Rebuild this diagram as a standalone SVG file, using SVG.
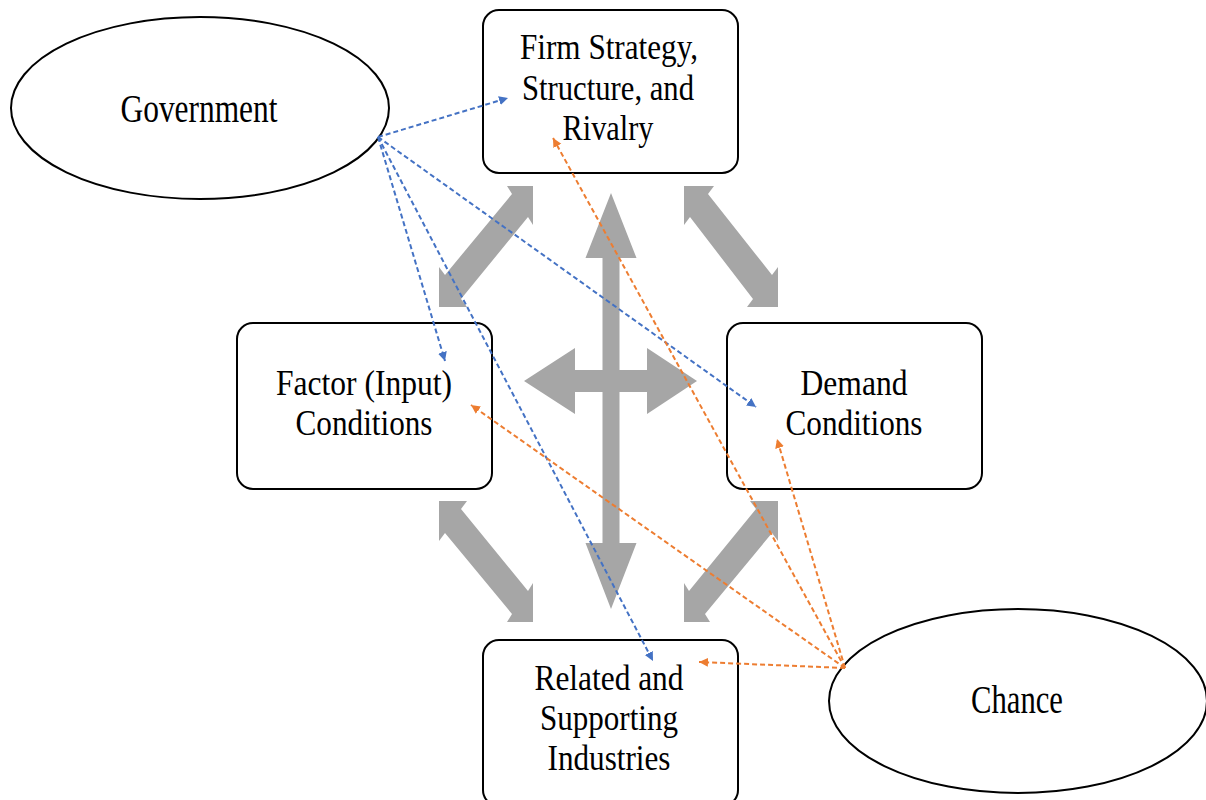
<svg xmlns="http://www.w3.org/2000/svg" width="1206" height="800" viewBox="0 0 1206 800">
  <defs>
    <style>
      .box { fill: #ffffff; stroke: #000000; stroke-width: 2; }
      .oval { fill: #ffffff; stroke: #000000; stroke-width: 2; }
      .label { font-family: "Liberation Serif", "Times New Roman", serif; font-size: 36px; fill: #000000; text-anchor: middle; }
      .big { font-size: 40px; }
      .force { fill: #a6a6a6; stroke: none; }
      .gov { fill: none; stroke: #4472c4; stroke-width: 2; stroke-dasharray: 5 3; marker-end: url(#headBlue); }
      .chance { fill: none; stroke: #ed7d31; stroke-width: 2; stroke-dasharray: 5 3; marker-end: url(#headOrange); }
    </style>
    <marker id="headBlue" markerUnits="userSpaceOnUse" markerWidth="10" markerHeight="10" refX="9" refY="4.5" orient="auto">
      <path d="M0,0 L9,4.5 L0,9 Z" fill="#4472c4"/>
    </marker>
    <marker id="headOrange" markerUnits="userSpaceOnUse" markerWidth="10" markerHeight="10" refX="9" refY="4.5" orient="auto">
      <path d="M0,0 L9,4.5 L0,9 Z" fill="#ed7d31"/>
    </marker>
  </defs>

  <rect width="1206" height="800" fill="#ffffff"/>

  <!-- grey double-headed arrows between the four determinants -->
  <g id="forces">
    <polygon class="force" points="533,186 507,186 512,194 445,275 439,267 439,307 467,307 461,299 528,217 533,225"/>
    <polygon class="force" points="684,186 714,186 708,194 772,275 778,267 778,307 747,307 753,299 690,217 684,225"/>
    <polygon class="force" points="533,622 507,622 512,614 445,533 439,541 439,501 467,501 461,509 528,591 533,583"/>
    <polygon class="force" points="684,622 710,622 705,614 772,533 778,541 778,501 750,501 756,509 689,591 684,583"/>
    <polygon class="force" points="611,193 636.5,258 619.5,258 619.5,370 647,370 647,348 697,381 647,414 647,392 619.5,392 619.5,543 636.5,543 611,609 585.5,543 602.5,543 602.5,392 575,392 575,414 524,381 575,348 575,370 602.5,370 602.5,258 585.5,258"/>
  </g>

  <g id="government">
    <ellipse class="oval" cx="200" cy="108" rx="189" ry="91"/>
    <text class="label big" x="199" y="122" textLength="157" lengthAdjust="spacingAndGlyphs">Government</text>
  </g>

  <g id="chance">
    <ellipse class="oval" cx="1018" cy="701" rx="189" ry="92"/>
    <text class="label big" x="1017" y="713" textLength="92" lengthAdjust="spacingAndGlyphs">Chance</text>
  </g>

  <g id="firm">
    <rect class="box" x="483" y="10" width="255" height="163" rx="16" ry="16"/>
    <text class="label" x="609" y="59" textLength="178" lengthAdjust="spacingAndGlyphs">Firm Strategy,</text>
    <text class="label" x="608" y="100" textLength="172" lengthAdjust="spacingAndGlyphs">Structure, and</text>
    <text class="label" x="608" y="140" textLength="91" lengthAdjust="spacingAndGlyphs">Rivalry</text>
  </g>

  <g id="factor">
    <rect class="box" x="237" y="323" width="255" height="166" rx="16" ry="16"/>
    <text class="label" x="364" y="395" textLength="176" lengthAdjust="spacingAndGlyphs">Factor (Input)</text>
    <text class="label" x="364" y="435" textLength="137" lengthAdjust="spacingAndGlyphs">Conditions</text>
  </g>

  <g id="demand">
    <rect class="box" x="727" y="323" width="255" height="166" rx="16" ry="16"/>
    <text class="label" x="854" y="395" textLength="107" lengthAdjust="spacingAndGlyphs">Demand</text>
    <text class="label" x="854" y="435" textLength="137" lengthAdjust="spacingAndGlyphs">Conditions</text>
  </g>

  <g id="related">
    <rect class="box" x="483" y="640" width="255" height="166" rx="16" ry="16"/>
    <text class="label" x="609" y="690" textLength="149" lengthAdjust="spacingAndGlyphs">Related and</text>
    <text class="label" x="609" y="730" textLength="138" lengthAdjust="spacingAndGlyphs">Supporting</text>
    <text class="label" x="609" y="770" textLength="123" lengthAdjust="spacingAndGlyphs">Industries</text>
  </g>

  <!-- dashed influence lines from Government (blue) and Chance (orange) -->
  <g id="connectors">
    <line class="gov" x1="378" y1="137" x2="508" y2="98"/>
    <line class="gov" x1="378" y1="137" x2="445" y2="361"/>
    <line class="gov" x1="378" y1="137" x2="756" y2="407"/>
    <line class="gov" x1="378" y1="137" x2="653" y2="661"/>
    <line class="chance" x1="845" y1="668" x2="553" y2="138"/>
    <line class="chance" x1="845" y1="668" x2="471" y2="405"/>
    <line class="chance" x1="845" y1="668" x2="777" y2="439"/>
    <line class="chance" x1="845" y1="668" x2="699" y2="662"/>
  </g>
</svg>
